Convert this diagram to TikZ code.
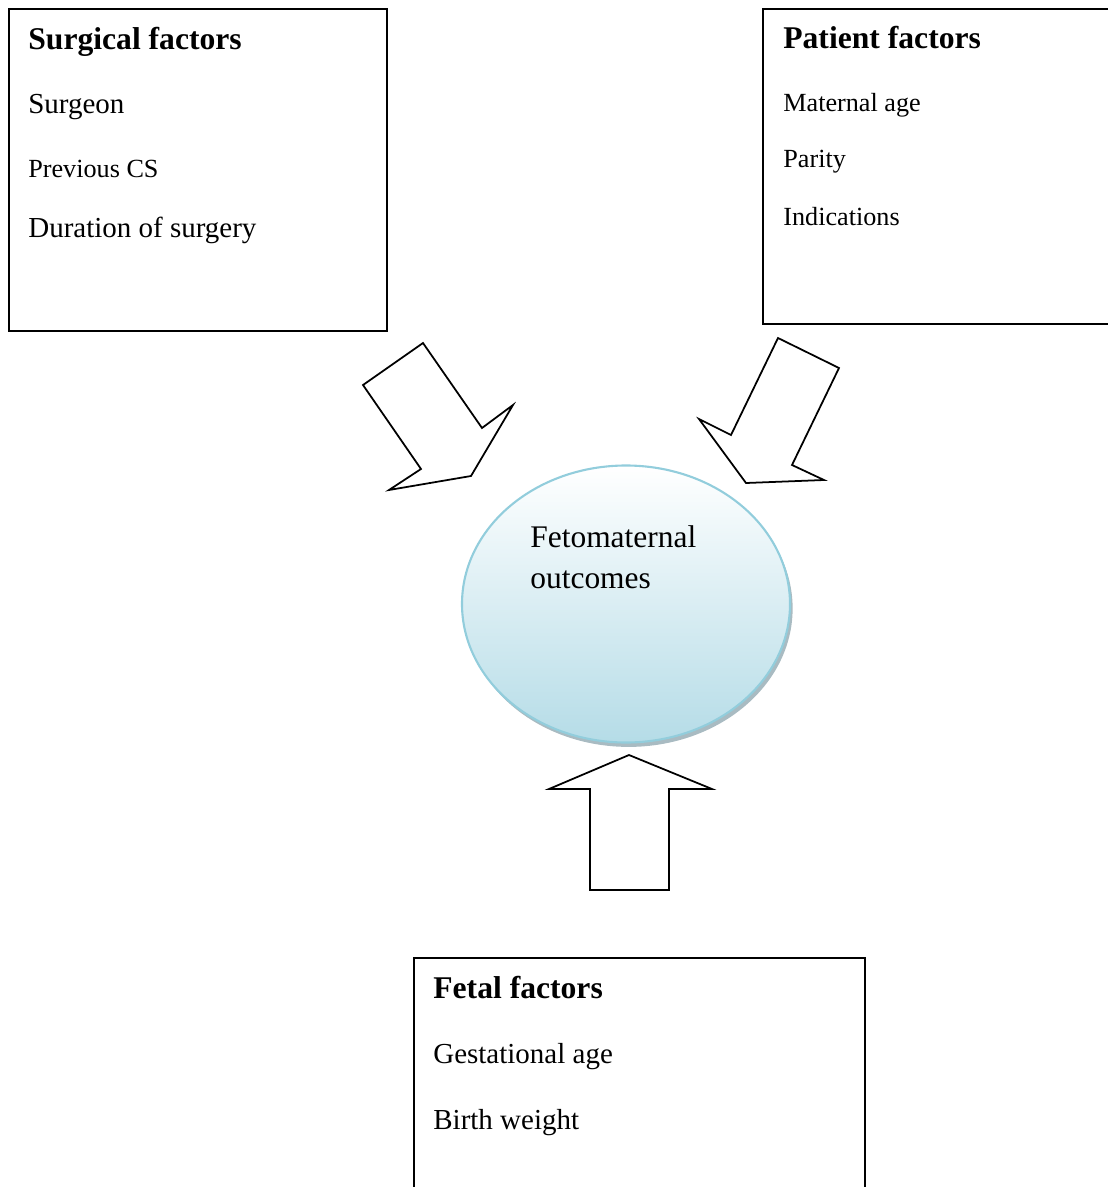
\documentclass[tikz,border=0pt]{standalone}
\usepackage{fontspec}
\setmainfont{Liberation Serif}
\usetikzlibrary{positioning,shapes.geometric,shadows}
\definecolor{outcomefill}{HTML}{B5DCE7}
\definecolor{outcomeline}{HTML}{92CDDC}
\definecolor{outcomeshadow}{HTML}{6F8E99}

\begin{document}
\begin{tikzpicture}[x=0.02cm, y=-0.02cm]
  \def\px{0.02cm}
  \def\titlefont{\fontsize{18}{21}\selectfont\bfseries}
  \def\itemfont{\fontsize{16.5}{19}\selectfont}
  \def\smallfont{\fontsize{14.9}{17}\selectfont}
  \tikzset{
    factorbox/.style={draw, line width=0.9pt, inner sep=0pt, anchor=north west},
    boxtext/.style={anchor=base west, inner sep=0pt},
    blockarrow/.style={draw, line width=1pt, fill=white, line join=miter},
    outcome/.style={ellipse, draw=outcomeline, line width=1.2pt,
      top color=white, bottom color=outcomefill,
      minimum width=328*\px, minimum height=277*\px,
      drop shadow={shadow xshift=1.5pt, shadow yshift=-2.5pt, fill=outcomeshadow, opacity=.6}},
  }
  \useasboundingbox (0,0) rectangle (1108,1187);

  % Surgical factors
  \node [factorbox, minimum width=378*\px, minimum height=322*\px] (surgical) at (8,8) {};
  \node [boxtext, font=\titlefont] (surgical title) at (28,49) {Surgical factors};
  \node [below = {64*\px} of surgical title.base west, boxtext, font=\itemfont] (surgeon) {Surgeon};
  \node [below = {64*\px} of surgeon.base west, boxtext, font=\smallfont] (previous cs) {Previous CS};
  \node [below = {60*\px} of previous cs.base west, boxtext, font=\itemfont] (duration) {Duration of surgery};

  % Patient factors (cut off at the right edge)
  \node [factorbox, minimum width=352*\px, minimum height=315*\px] (patient) at (762,8) {};
  \node [boxtext, font=\titlefont] (patient title) at (783,48) {Patient factors};
  \node [below = {63*\px} of patient title.base west, boxtext, font=\smallfont] (maternal age) {Maternal age};
  \node [below = {56*\px} of maternal age.base west, boxtext, font=\smallfont] (parity) {Parity};
  \node [below = {58*\px} of parity.base west, boxtext, font=\smallfont] (indications) {Indications};

  % Fetal factors (cut off at the bottom)
  \node [factorbox, minimum width=451*\px, minimum height=245*\px] (fetal) at (413,957) {};
  \node [boxtext, font=\titlefont] (fetal title) at (433,998) {Fetal factors};
  \node [below = {65*\px} of fetal title.base west, boxtext, font=\itemfont] (gestational age) {Gestational age};
  \node [below = {66*\px} of gestational age.base west, boxtext, font=\itemfont] (birth weight) {Birth weight};

  % Outcome
  \node [outcome] (outcome) at (626,604) {};
  \node [boxtext, font=\fontsize{17.9}{21}\selectfont] (outcome top) at (530,547) {Fetomaternal};
  \node [below = {41*\px} of outcome top.base west, boxtext, font=\fontsize{17.9}{21}\selectfont] (outcome bottom) {outcomes};

  % Block arrows
  \draw [blockarrow] (363,385) -- (423,343) -- (482,428) -- (513,405) -- (471,476)
    -- (389,490) -- (421,469) -- cycle;
  \draw [blockarrow] (778,338) -- (839,368) -- (792,465) -- (824,480) -- (746,483)
    -- (699,419) -- (731,435) -- cycle;
  \draw [blockarrow] (629,755) -- (712,789) -- (669,789) -- (669,890) -- (590,890)
    -- (590,789) -- (549,789) -- cycle;
\end{tikzpicture}
\end{document}
